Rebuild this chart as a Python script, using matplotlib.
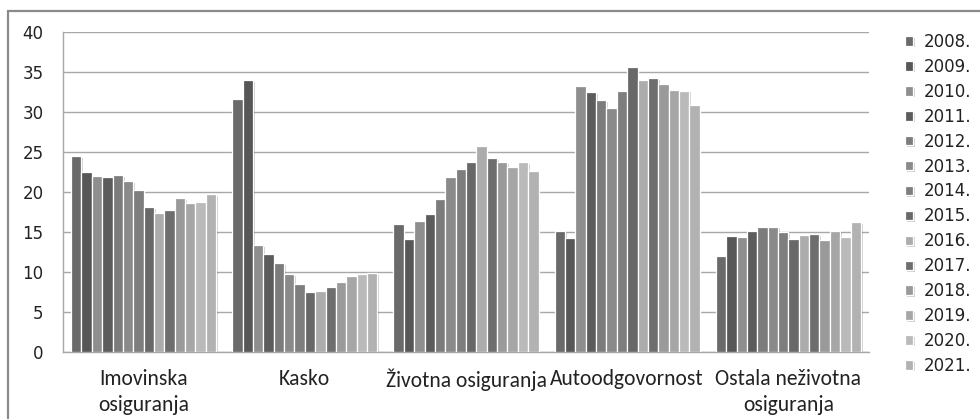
import matplotlib
matplotlib.use("Agg")
import matplotlib.pyplot as plt
import matplotlib.patches as mpatches
import matplotlib.patheffects as pe
import numpy as np

categories = ["Imovinska\nosiguranja", "Kasko", "Životna osiguranja",
              "Autoodgovornost", "Ostala neživotna\nosiguranja"]
years = ["2008.", "2009.", "2010.", "2011.", "2012.", "2013.", "2014.",
         "2015.", "2016.", "2017.", "2018.", "2019.", "2020.", "2021."]

imovinska = [24.5, 22.5, 22.0, 21.9, 22.1, 21.4, 20.3, 18.1, 17.4, 17.8, 19.3, 18.6, 18.8, 19.8]
kasko = [31.7, 34.0, 13.4, 12.3, 11.1, 9.8, 8.5, 7.5, 7.6, 8.2, 8.8, 9.5, 9.8, 9.9]
zivotna = [16.0, 14.1, 16.4, 17.3, 19.2, 21.9, 22.9, 23.8, 25.8, 24.3, 23.8, 23.2, 23.8, 22.6]
auto = [15.1, 14.3, 33.3, 32.5, 31.5, 30.5, 32.6, 35.7, 34.0, 34.3, 33.5, 32.8, 32.7, 30.9]
ostala = [12.0, 14.5, 14.4, 15.2, 15.7, 15.7, 15.0, 14.2, 14.7, 14.8, 14.0, 15.2, 14.4, 16.3]

colors = ["#6a6a6a", "#575757", "#8e8e8e", "#5c5c5c", "#7c7c7c", "#8a8a8a", "#7e7e7e",
          "#686868", "#acacac", "#6e6e6e", "#9a9a9a", "#a6a6a6", "#bababa", "#b2b2b2"]

data = np.array([imovinska, kasko, zivotna, auto, ostala])  # shape (cat, year)

fig = plt.figure(figsize=(9.8, 4.19), dpi=100)
ax = fig.add_axes([63/980, 1-352.3/419, (869-63)/980, (352.3-32.3)/419])

n = len(years)
group_w = 0.9
w = group_w / n
x = np.arange(len(categories))
shadow = [pe.SimplePatchShadow(offset=(1.2, -1.2), alpha=0.18, shadow_rgbFace="#000000"), pe.Normal()]
handles = []
for i, yr in enumerate(years):
    pos = x - group_w/2 + w*(i+0.5)
    bars = ax.bar(pos, data[:, i], width=w, color=colors[i], edgecolor="white",
                  linewidth=0.9, label=yr, zorder=3)
    for b in bars:
        b.set_path_effects(shadow)
    handles.append(bars)

ax.set_xlim(-0.5, len(categories)-0.5)
ax.set_ylim(0, 40)
ax.set_yticks(np.arange(0, 41, 5))
ax.yaxis.grid(True, color="#a8a8a8", linewidth=1.0, zorder=0)
ax.set_axisbelow(True)
for s in ["top", "right"]:
    ax.spines[s].set_visible(False)
ax.spines["left"].set_color("#a8a8a8")
ax.spines["bottom"].set_color("#a8a8a8")
ax.spines["left"].set_linewidth(1.0)
ax.spines["bottom"].set_linewidth(1.0)
ax.tick_params(axis="y", length=0, pad=14, labelsize=12, colors="#222222")
for lbl in ax.get_yticklabels():
    lbl.set_family("DejaVu Sans")
ax.tick_params(axis="x", length=0, pad=12)
ax.set_xticks(x)
ax.set_xticklabels(categories, fontsize=15.5, color="#222222",
                   family=["Carlito", "DejaVu Sans"], linespacing=1.35)

leg = fig.legend(handles=handles, labels=years, loc="upper left",
                 bbox_to_anchor=(905/980, 1-33/419), frameon=False,
                 prop={"family": "DejaVu Sans", "size": 12},
                 handlelength=0.5, handleheight=0.5, handletextpad=0.65,
                 labelspacing=0.415, borderpad=0, borderaxespad=0)
for t in leg.get_texts():
    t.set_color("#222222")

frame = mpatches.Rectangle((8/980, -0.1), 1.2, 1.1 - 11/419, transform=fig.transFigure,
                           fill=False, edgecolor="#8a8a8a", linewidth=1.6)
fig.patches.append(frame)

fig.savefig("out.png", dpi=100)
